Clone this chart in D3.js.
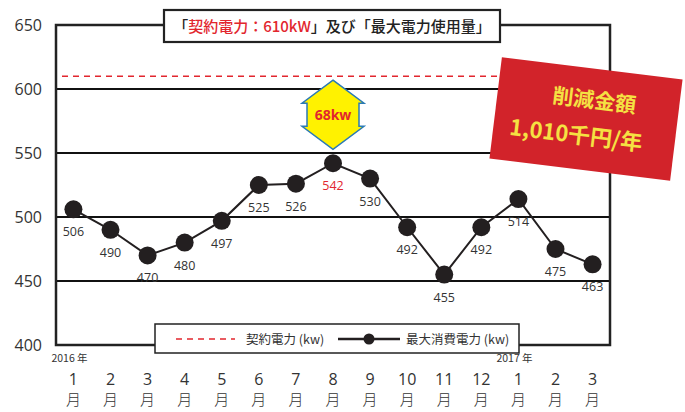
<!DOCTYPE html>
<html><head><meta charset="utf-8">
<script src="https://cdn.jsdelivr.net/npm/d3@7"></script>
<style>
body{margin:0;background:#fff;}
svg{display:block;font-family:"Noto Sans CJK JP","Noto Sans",sans-serif;}
</style></head>
<body>
<svg id="c" width="685" height="412"></svg>
<script>
const months = ["1","2","3","4","5","6","7","8","9","10","11","12","1","2","3"];
const yearLabels = [{i:0, t:"2016 年"},{i:12, t:"2017 年"}];
const maxPower = [506,490,470,480,497,525,526,542,530,492,455,492,514,475,463];
const contractPower = 610;
const highlightIndex = 7;
const yTicks = [400,450,500,550,600,650];
const titleParts = [{t:"「", c:"#222"},{t:"契約電力：610kW", c:"#e2262e"},{t:"」及び「最大電力使用量」", c:"#222"}];
const legendItems = ["契約電力 (kw)", "最大消費電力 (kw)"];
const badgeLines = ["削減金額", "1,010千円/年"];
const gapLabel = "68kw";

const svg = d3.select("#c");
const L = 56, R = 610, T = 25, B = 345;
const x = d3.scalePoint().domain(d3.range(months.length)).range([L, R]).padding(0.47);
const y = d3.scaleLinear().domain([400, 650]).range([B, T]);

// gridlines
svg.append("g").selectAll("line").data(yTicks.filter(v => v > 400 && v < 650)).join("line")
  .attr("x1", L).attr("x2", R).attr("y1", d => y(d)).attr("y2", d => y(d))
  .attr("stroke", "#111").attr("stroke-width", 2);

// frame
svg.append("rect").attr("x", L).attr("y", T).attr("width", R - L).attr("height", B - T)
  .attr("fill", "none").attr("stroke", "#222").attr("stroke-width", 2.5);

// y axis labels
const yAxis = d3.axisLeft(y).tickValues(yTicks).tickSize(0).tickPadding(14);
const ga = svg.append("g").attr("transform", `translate(${L},0)`).call(yAxis);
ga.select(".domain").remove();
ga.selectAll("text").attr("font-size", 16).attr("fill", "#333")
  .attr("font-family", "'Open Sans','Noto Sans',sans-serif").attr("font-weight", 400);

// contract dashed line
svg.append("line").attr("x1", L + 6).attr("x2", R - 6)
  .attr("y1", y(contractPower)).attr("y2", y(contractPower))
  .attr("stroke", "#e2262e").attr("stroke-width", 1.6).attr("stroke-dasharray", "6,5");

// series line
svg.append("path").datum(maxPower)
  .attr("d", d3.line().x((d, i) => x(i)).y(d => y(d)))
  .attr("fill", "none").attr("stroke", "#231f20").attr("stroke-width", 2);

svg.append("g").selectAll("circle").data(maxPower).join("circle")
  .attr("cx", (d, i) => x(i)).attr("cy", d => y(d)).attr("r", 9).attr("fill", "#231f20");

svg.append("g").selectAll("text").data(maxPower).join("text")
  .attr("x", (d, i) => x(i)).attr("y", d => y(d) + 27)
  .attr("text-anchor", "middle").attr("font-size", 12.5)
  .attr("font-family", "'Open Sans','Noto Sans',sans-serif")
  .attr("fill", (d, i) => i === highlightIndex ? "#e2262e" : "#333")
  .text(d => d);

// double arrow between contract and peak
{
  const cx = x(highlightIndex);
  const top = y(contractPower) + 4, bot = y(maxPower[highlightIndex]) - 14;
  const hw = 31, sw = 26, hh = 23;
  const pts = [[cx, top],[cx + hw, top + hh],[cx + sw, top + hh],[cx + sw, bot - hh],[cx + hw, bot - hh],
    [cx, bot],[cx - hw, bot - hh],[cx - sw, bot - hh],[cx - sw, top + hh],[cx - hw, top + hh]];
  svg.append("polygon").attr("points", pts.map(p => p.join(",")).join(" "))
    .attr("fill", "#fff200").attr("stroke", "#2a7ab5").attr("stroke-width", 1.5).attr("stroke-linejoin", "miter");
  svg.append("text").attr("x", cx).attr("y", (top + bot) / 2 + 5)
    .attr("text-anchor", "middle").attr("font-size", 14).attr("font-weight", 700)
    .attr("fill", "#e2262e").attr("font-family", "'Open Sans','Noto Sans',sans-serif").text(gapLabel);
}

// title box
{
  const g = svg.append("g");
  g.append("rect").attr("x", 164).attr("y", 10).attr("width", 336).attr("height", 32)
    .attr("fill", "#fff").attr("stroke", "#222").attr("stroke-width", 2.2);
  const t = g.append("text").attr("x", 332).attr("y", 32).attr("text-anchor", "middle")
    .attr("font-size", 15).attr("font-weight", 500);
  t.selectAll("tspan").data(titleParts).join("tspan").attr("fill", d => d.c).text(d => d.t);
}

// legend box
{
  const g = svg.append("g");
  g.append("rect").attr("x", 155).attr("y", 324).attr("width", 364).attr("height", 29)
    .attr("fill", "#fff").attr("stroke", "#222").attr("stroke-width", 1.5);
  g.append("line").attr("x1", 176).attr("x2", 235).attr("y1", 339).attr("y2", 339)
    .attr("stroke", "#e2262e").attr("stroke-width", 1.6).attr("stroke-dasharray", "6,5");
  g.append("text").attr("x", 246).attr("y", 344).attr("font-size", 12.5).attr("fill", "#333").text(legendItems[0]);
  g.append("line").attr("x1", 338).attr("x2", 400).attr("y1", 339).attr("y2", 339)
    .attr("stroke", "#231f20").attr("stroke-width", 2.5);
  g.append("circle").attr("cx", 369).attr("cy", 339).attr("r", 5.5).attr("fill", "#231f20");
  g.append("text").attr("x", 406).attr("y", 344).attr("font-size", 12.5).attr("fill", "#333").text(legendItems[1]);
}

// badge
{
  const g = svg.append("g").attr("transform", "translate(586,119) rotate(7)");
  g.append("rect").attr("x", -91).attr("y", -51).attr("width", 182).attr("height", 102).attr("fill", "#d2232a");
  g.append("text").attr("x", 6).attr("y", -12).attr("text-anchor", "middle").attr("font-size", 21)
    .attr("font-weight", 700).attr("fill", "#f5e142").text(badgeLines[0]);
  g.append("text").attr("x", -8).attr("y", 25).attr("text-anchor", "middle").attr("font-size", 22)
    .attr("font-weight", 700).attr("fill", "#f5e142").text(badgeLines[1]);
}

// x labels
const gx = svg.append("g");
gx.selectAll("text.m").data(months).join("text").attr("class", "m")
  .attr("x", (d, i) => x(i)).attr("y", 385).attr("text-anchor", "middle")
  .attr("font-family", "'Open Sans','Noto Sans',sans-serif")
  .attr("font-size", 16).attr("font-weight", 400).attr("fill", "#333").text(d => d);
gx.selectAll("text.g").data(months).join("text").attr("class", "g")
  .attr("x", (d, i) => x(i)).attr("y", 405).attr("text-anchor", "middle")
  .attr("font-size", 15).attr("font-weight", 300).attr("fill", "#333").text("月");
gx.selectAll("text.yr").data(yearLabels).join("text").attr("class", "yr")
  .attr("x", d => x(d.i) - 22).attr("y", 362).attr("font-size", 10.5).attr("fill", "#333").text(d => d.t);
</script>
</body></html>
